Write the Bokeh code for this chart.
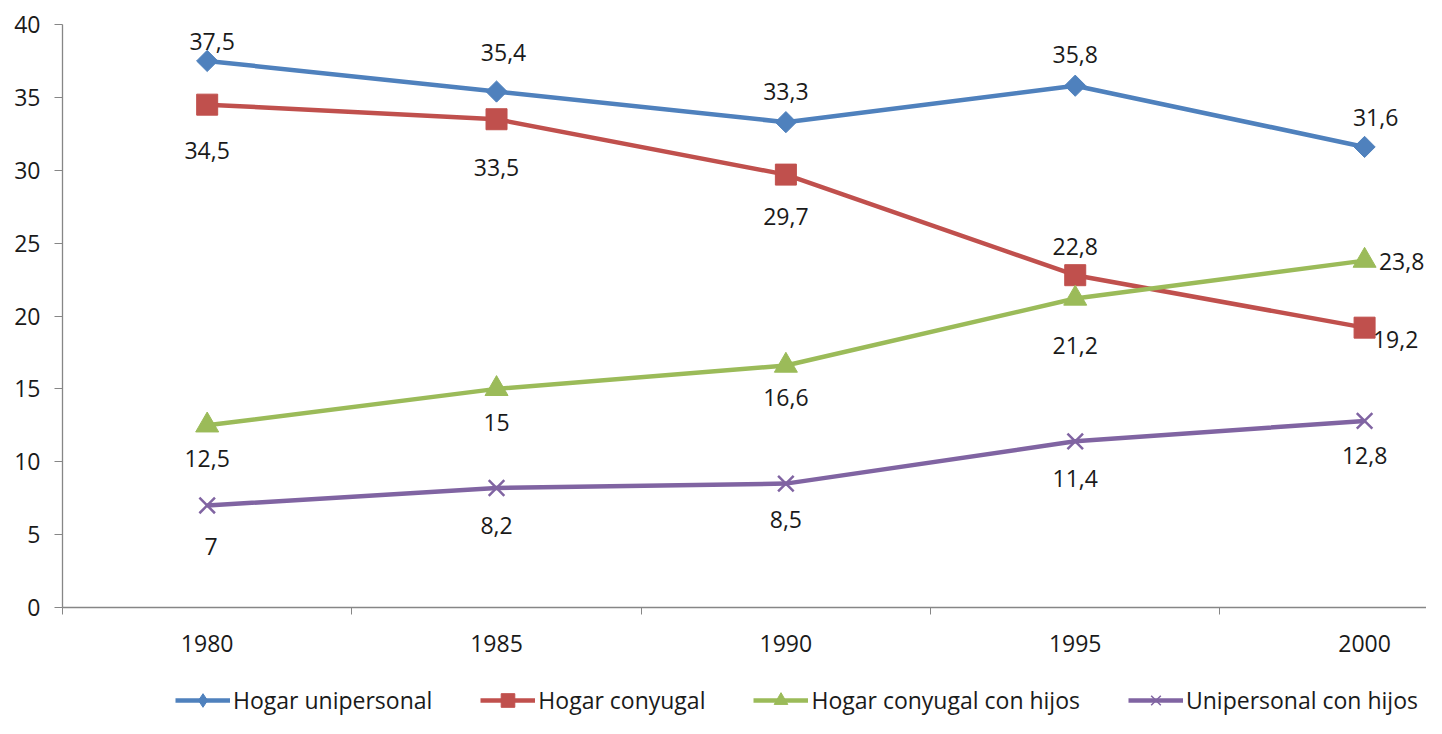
from bokeh.plotting import figure
from bokeh.layouts import column
from bokeh.models import ColumnDataSource, Range1d, FixedTicker, Legend, LegendItem
from bokeh.core.properties import value
from bokeh.embed import file_html
from bokeh.resources import INLINE

# ---- data ----
years = [1980, 1985, 1990, 1995, 2000]
hogar_unipersonal = [37.5, 35.4, 33.3, 35.8, 31.6]
hogar_conyugal = [34.5, 33.5, 29.7, 22.8, 19.2]
hogar_conyugal_con_hijos = [12.5, 15, 16.6, 21.2, 23.8]
unipersonal_con_hijos = [7, 8.2, 8.5, 11.4, 12.8]
series_names = ["Hogar unipersonal", "Hogar conyugal",
                "Hogar conyugal con hijos", "Unipersonal con hijos"]
y_ticks = [0, 5, 10, 15, 20, 25, 30, 35, 40]

# ---- style / label placement (pixels) ----
colors = ["#4F81BD", "#C0504D", "#9BBB59", "#8064A2"]
label_dx = [[5, 7, 0, 0, 11], [0, 0, 0, 0, 31], [0, 0, 0, 0, 37], [4, 0, 0, 0, 0]]
label_dy = [[-19, -39, -31, -31, -29], [46, 48, 42, -29, 12],
            [33, 34, 32, 47, 1], [41, 38, 36, 37, 35]]

FONT = "Open Sans"
FS = "23px"
TXT = "#1a1a1a"
AX = "#868686"

p = figure(width=1426, height=682, output_backend="svg", toolbar_location=None,
           x_range=Range1d(1977.5, 2001.07), y_range=Range1d(0, 40),
           min_border_left=62, min_border_top=24, min_border_bottom=75,
           min_border_right=0)
p.outline_line_color = None
p.grid.visible = False

# axes
p.xaxis.ticker = FixedTicker(ticks=years, minor_ticks=[1977.5, 1982.5, 1987.5, 1992.5, 1997.5])
p.xaxis.major_tick_line_color = None
p.xaxis.major_tick_out = 0
p.xaxis.major_tick_in = 0
p.xaxis.minor_tick_out = 7
p.xaxis.minor_tick_in = 0
p.xaxis.minor_tick_line_color = AX
p.xaxis.major_label_standoff = 20

p.yaxis.ticker = FixedTicker(ticks=y_ticks, minor_ticks=[])
p.yaxis.major_tick_out = 8
p.yaxis.major_tick_in = 0
p.yaxis.major_tick_line_color = AX
p.yaxis.minor_tick_line_color = None
p.yaxis.major_label_standoff = 14

for ax in (p.xaxis, p.yaxis):
    ax.axis_line_color = AX
    ax.axis_line_width = 1.3
    ax.major_label_text_font = FONT
    ax.major_label_text_font_size = FS
    ax.major_label_text_color = TXT

all_series = [hogar_unipersonal, hogar_conyugal, hogar_conyugal_con_hijos, unipersonal_con_hijos]

# legend strip (separate canvas below the chart so the legend is not clipped)
pl = figure(width=1426, height=36, output_backend="svg", toolbar_location=None,
            x_range=Range1d(0, 1), y_range=Range1d(0, 1),
            min_border_left=0, min_border_right=0, min_border_top=0, min_border_bottom=0)
pl.outline_line_color = None
pl.grid.visible = False
pl.axis.visible = False

items = []
for i, vals in enumerate(all_series):
    src = ColumnDataSource(dict(
        x=years, y=vals,
        lab=[f"{v:g}".replace(".", ",") for v in vals],
        dx=label_dx[i], dy=label_dy[i],
    ))
    c = colors[i]
    p.line("x", "y", source=src, line_color=c, line_width=4.5)
    kw = dict(fill_color=c, line_color=c)
    if i == 0:
        kw.update(marker="square", size=15, angle=0.785398)
        lkw = dict(fill_color=c, line_color=c, marker="diamond", size=15)
    elif i == 1:
        kw.update(marker="square", size=21)
        lkw = kw
    elif i == 2:
        kw.update(marker="triangle", size=23)
        lkw = kw
    else:
        kw = dict(marker="x", size=22, line_color=c, line_width=2.5)
        lkw = dict(marker="x", size=22, line_color=c, line_width=1.5)
    p.scatter("x", "y", source=src, **kw)
    p.text("x", "y", text="lab", source=src, x_offset="dx", y_offset="dy",
           text_font=value(FONT), text_font_size=FS, text_color=TXT,
           text_align="center", text_baseline="middle")

    # legend proxies on the strip (same data, outside the strip's ranges)
    ln = pl.line("x", "y", source=src, line_color=c, line_width=4.5)
    mk = pl.scatter("x", "y", source=src, **lkw)
    items.append(LegendItem(label=series_names[i], renderers=[ln, mk]))

legend = Legend(items=items, orientation="horizontal", location=(113, 1),
                glyph_width=55, glyph_height=34, label_standoff=3, spacing=48,
                padding=0, margin=0, border_line_color=None,
                background_fill_alpha=0,
                label_text_font=FONT, label_text_font_size=FS,
                label_text_color=TXT)
pl.add_layout(legend)

layout = column(p, pl, spacing=0)
open("out.html", "w").write(file_html(layout, INLINE))
